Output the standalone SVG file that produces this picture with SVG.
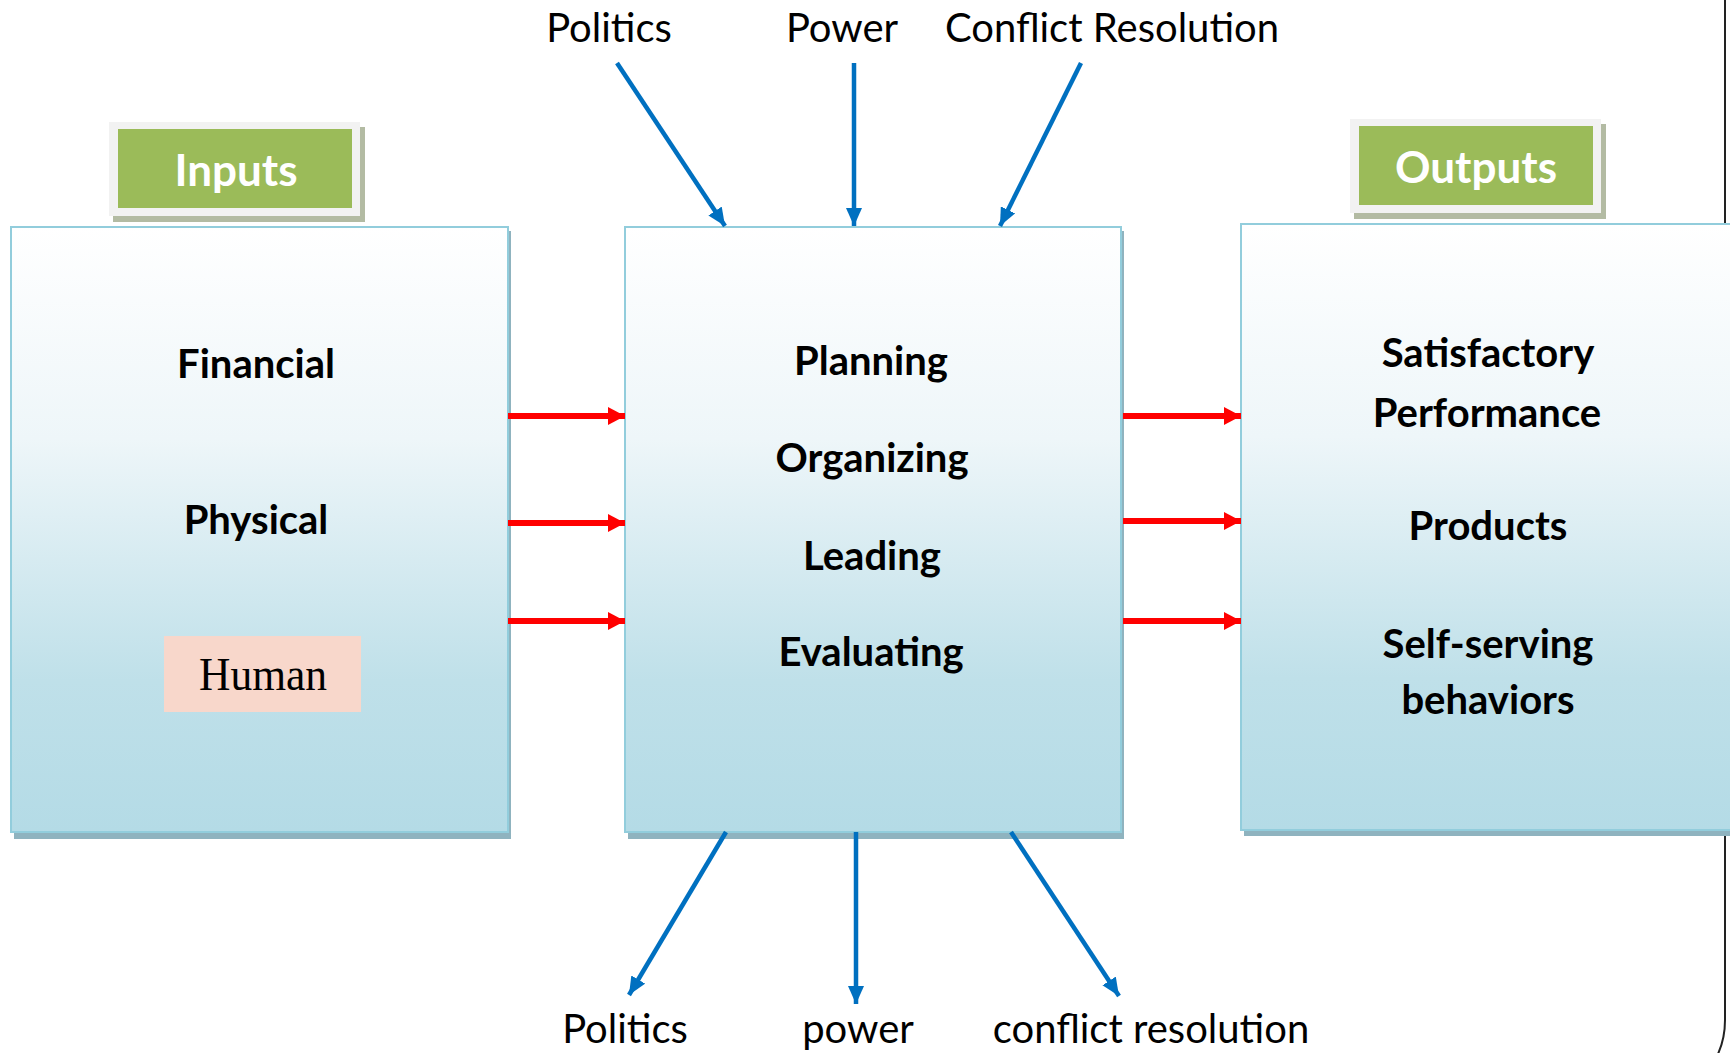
<svg xmlns="http://www.w3.org/2000/svg" width="1730" height="1053" viewBox="0 0 1730 1053">
<defs>
<linearGradient id="boxg" x1="0" y1="0" x2="0" y2="1">
<stop offset="0" stop-color="#ffffff"/>
<stop offset="0.35" stop-color="#eef6f9"/>
<stop offset="0.75" stop-color="#bfe0e9"/>
<stop offset="1" stop-color="#b4dbe6"/>
</linearGradient>
<marker id="ra" markerWidth="17" markerHeight="18" refX="17" refY="9" orient="auto" markerUnits="userSpaceOnUse">
<path d="M0,0 L17,9 L0,18 Z" fill="#ff0000"/>
</marker>
<marker id="ba" markerWidth="18" markerHeight="16" refX="18" refY="8" orient="auto" markerUnits="userSpaceOnUse">
<path d="M0,0 L18,8 L0,16 Z" fill="#0070c0"/>
</marker>
</defs>
<style>
.box{fill:url(#boxg);stroke:#92cddc;stroke-width:2}
.shadow{fill:#8fb3bf}
.lbl{font-family:Lato,"Open Sans",sans-serif;font-size:40px;font-weight:bold;fill:#000;text-anchor:middle}
.ext{font-family:Lato,"Open Sans",sans-serif;font-size:40px;fill:#000;text-anchor:middle}
.badge{font-family:Lato,"Open Sans",sans-serif;font-size:44px;font-weight:bold;fill:#fff;text-anchor:middle}
.red{stroke:#ff0000;stroke-width:6;fill:none}
.blue{stroke:#0070c0;stroke-width:4.5;fill:none}
</style>
<rect width="1730" height="1053" fill="#fff"/>
<path d="M1725,0 V1020 Q1725,1040 1717,1056" fill="none" stroke="#222" stroke-width="2"/>

<g id="inputs-badge">
<rect x="113" y="127" width="252" height="95" fill="#b3bba3"/>
<rect x="109" y="122" width="251" height="94" fill="#f2f2f2"/>
<rect x="118" y="129" width="234" height="79" fill="#9bbb59"/>
<text class="badge" x="236" y="186">Inputs</text>
</g>
<g id="outputs-badge">
<rect x="1354" y="124" width="252" height="95" fill="#b3bba3"/>
<rect x="1350" y="119" width="251" height="94" fill="#f2f2f2"/>
<rect x="1359" y="126" width="234" height="79" fill="#9bbb59"/>
<text class="badge" x="1476" y="183">Outputs</text>
</g>

<g id="inputs-box">
<rect class="shadow" x="14" y="231" width="497" height="608"/>
<rect class="box" x="11" y="227" width="497" height="605"/>
<text class="lbl" x="256" y="378">Financial</text>
<text class="lbl" x="256" y="534">Physical</text>
<rect x="164" y="636" width="197" height="76" fill="#f8d7cb"/>
<text x="263" y="690" font-family="'Liberation Serif','Times New Roman',serif" font-size="46" fill="#000" text-anchor="middle" textLength="128" lengthAdjust="spacingAndGlyphs">Human</text>
</g>

<g id="process-box">
<rect class="shadow" x="628" y="231" width="496" height="608"/>
<rect class="box" x="625" y="227" width="496" height="605"/>
<text class="lbl" x="871" y="375">Planning</text>
<text class="lbl" x="872" y="472">Organizing</text>
<text class="lbl" x="872" y="570">Leading</text>
<text class="lbl" x="871" y="666">Evaluating</text>
</g>

<g id="outputs-box">
<rect class="shadow" x="1244" y="228" width="500" height="608"/>
<rect class="box" x="1241" y="224" width="500" height="606"/>
<text class="lbl" x="1488" y="367">Satisfactory</text>
<text class="lbl" x="1487" y="427">Performance</text>
<text class="lbl" x="1488" y="540">Products</text>
<text class="lbl" x="1488" y="658">Self-serving</text>
<text class="lbl" x="1488" y="714">behaviors</text>
</g>

<g id="connectors">
<line class="red" x1="508" y1="416" x2="625" y2="416" marker-end="url(#ra)"/>
<line class="red" x1="508" y1="523" x2="625" y2="523" marker-end="url(#ra)"/>
<line class="red" x1="508" y1="621" x2="625" y2="621" marker-end="url(#ra)"/>
<line class="red" x1="1123" y1="416" x2="1241" y2="416" marker-end="url(#ra)"/>
<line class="red" x1="1123" y1="521" x2="1241" y2="521" marker-end="url(#ra)"/>
<line class="red" x1="1123" y1="621" x2="1241" y2="621" marker-end="url(#ra)"/>
<line class="blue" x1="617" y1="63" x2="725" y2="226" marker-end="url(#ba)"/>
<line class="blue" x1="854" y1="63" x2="854" y2="226" marker-end="url(#ba)"/>
<line class="blue" x1="1081" y1="63" x2="1000" y2="226" marker-end="url(#ba)"/>
<line class="blue" x1="726" y1="832" x2="629" y2="995" marker-end="url(#ba)"/>
<line class="blue" x1="856" y1="832" x2="856" y2="1004" marker-end="url(#ba)"/>
<line class="blue" x1="1011" y1="832" x2="1119" y2="996" marker-end="url(#ba)"/>
</g>

<g id="labels">
<text class="ext" x="609" y="42">Politics</text>
<text class="ext" x="842" y="42">Power</text>
<text class="ext" x="1112" y="42">Conflict Resolution</text>
<text class="ext" x="625" y="1043">Politics</text>
<text class="ext" x="858" y="1043">power</text>
<text class="ext" x="1151" y="1043">conflict resolution</text>
</g>
</svg>
